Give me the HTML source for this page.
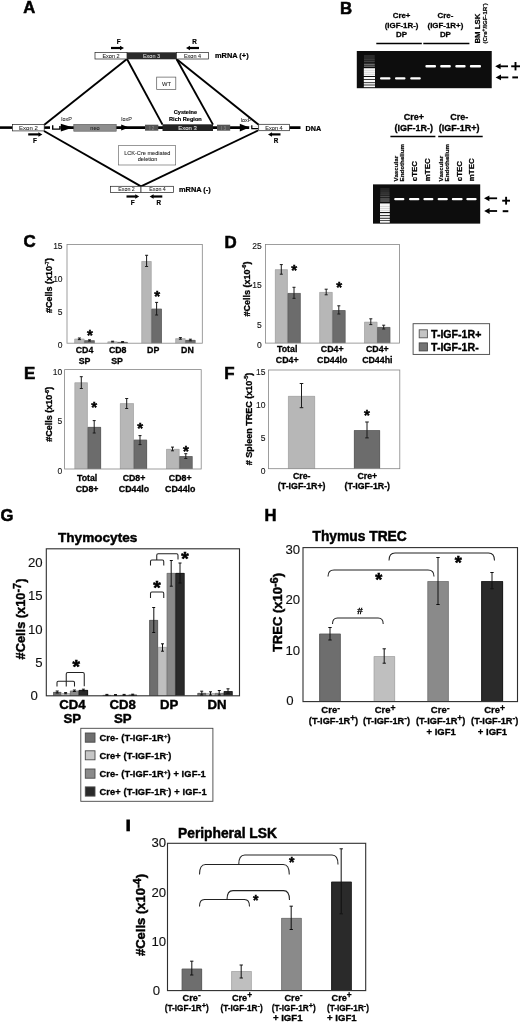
<!DOCTYPE html>
<html><head><meta charset="utf-8"><title>Figure</title>
<style>
html,body{margin:0;padding:0;background:#fff;}
body{width:520px;height:1023px;overflow:hidden;font-family:"Liberation Sans",sans-serif;}
svg{display:block;font-family:"Liberation Sans",sans-serif;}
</style></head><body>
<svg width="520" height="1023" viewBox="0 0 520 1023">
<defs>
<filter id="glow" x="-20%" y="-100%" width="140%" height="300%"><feGaussianBlur stdDeviation="0.7"/></filter>
<filter id="glow2" x="-20%" y="-100%" width="140%" height="300%"><feGaussianBlur stdDeviation="0.45"/></filter>
<filter id="soft" x="-5%" y="-5%" width="110%" height="110%"><feGaussianBlur stdDeviation="0.35"/></filter>
</defs>
<rect x="0" y="0" width="520" height="1023" fill="#fff"/>
<g filter="url(#soft)">
<g id="panelA">
<text x="23.2" y="13.4" font-size="16.6" font-weight="bold" text-anchor="start" fill="#000" stroke="#000" stroke-width="0.55">A</text>
<line x1="127.0" y1="59.0" x2="44.0" y2="125.0" stroke="#000" stroke-width="1.9" stroke-linecap="butt"/>
<line x1="127.0" y1="59.0" x2="162.5" y2="124.6" stroke="#000" stroke-width="1.9" stroke-linecap="butt"/>
<line x1="176.5" y1="59.0" x2="213.0" y2="124.6" stroke="#000" stroke-width="1.9" stroke-linecap="butt"/>
<line x1="176.5" y1="59.0" x2="258.7" y2="124.8" stroke="#000" stroke-width="1.9" stroke-linecap="butt"/>
<line x1="44.0" y1="131.0" x2="141.0" y2="186.3" stroke="#000" stroke-width="1.9" stroke-linecap="butt"/>
<line x1="258.0" y1="130.5" x2="141.0" y2="186.3" stroke="#000" stroke-width="1.9" stroke-linecap="butt"/>
<rect x="95.0" y="52.6" width="32.0" height="6.4" fill="#fff" stroke="#222" stroke-width="0.7"/>
<rect x="127.0" y="52.3" width="49.5" height="7.0" fill="#2a2a2a"/>
<rect x="176.5" y="52.6" width="32.0" height="6.4" fill="#fff" stroke="#222" stroke-width="0.7"/>
<text x="111.0" y="57.9" font-size="5.5" font-weight="normal" text-anchor="middle" fill="#222" stroke="#222" stroke-width="0.07">Exon 2</text>
<text x="151.5" y="57.9" font-size="5.5" font-weight="normal" text-anchor="middle" fill="#ddd" stroke="#ddd" stroke-width="0.07">Exon 3</text>
<text x="192.5" y="57.9" font-size="5.5" font-weight="normal" text-anchor="middle" fill="#222" stroke="#222" stroke-width="0.07">Exon 4</text>
<text x="118.6" y="43.6" font-size="6.3" font-weight="bold" text-anchor="middle" fill="#000" stroke="#000" stroke-width="0.21">F</text>
<line x1="111.0" y1="48.0" x2="120.5" y2="48.0" stroke="#000" stroke-width="2.2" stroke-linecap="butt"/>
<polygon points="124.0,48.0 120.0,45.8 120.0,50.2" fill="#000"/>
<text x="194.5" y="43.6" font-size="6.3" font-weight="bold" text-anchor="middle" fill="#000" stroke="#000" stroke-width="0.21">R</text>
<line x1="189.5" y1="48.0" x2="199.0" y2="48.0" stroke="#000" stroke-width="2.2" stroke-linecap="butt"/>
<polygon points="186.0,48.0 190.0,45.8 190.0,50.2" fill="#000"/>
<text x="215.0" y="58.4" font-size="7.4" font-weight="bold" text-anchor="start" fill="#000" stroke="#000" stroke-width="0.24">mRNA (+)</text>
<rect x="156.7" y="77.1" width="19.1" height="12.5" fill="#fff" stroke="#555" stroke-width="0.7"/>
<text x="166.6" y="85.7" font-size="5.8" font-weight="normal" text-anchor="middle" fill="#222" stroke="#222" stroke-width="0.07">WT</text>
<line x1="0.0" y1="127.6" x2="12.4" y2="127.6" stroke="#000" stroke-width="2.6" stroke-linecap="butt"/>
<line x1="44.0" y1="127.6" x2="50.0" y2="127.6" stroke="#000" stroke-width="2.6" stroke-linecap="butt"/>
<line x1="60.5" y1="127.6" x2="300.5" y2="127.6" stroke="#000" stroke-width="2.6" stroke-linecap="butt"/>
<rect x="12.5" y="124.4" width="31.7" height="6.5" fill="#fff" stroke="#222" stroke-width="0.7"/>
<text x="28.4" y="129.9" font-size="6.0" font-weight="normal" text-anchor="middle" fill="#222" stroke="#222" stroke-width="0.07">Exon 2</text>
<path d="M52.7,125.3 V129.1 H59.9 V126.1" stroke="#000" stroke-width="1.4" fill="none" />
<polygon points="60.8,123.7 73,127.6 60.8,131.4" fill="#000"/>
<polygon points="121.2,124.6 129,127.6 121.2,130.6" fill="#000"/>
<polygon points="239.8,123.7 249.4,127.6 239.8,131.4" fill="#000"/>
<rect x="73.8" y="124.4" width="42.4" height="6.8" fill="#8e8e8e" stroke="#555" stroke-width="0.6"/>
<text x="95.0" y="129.9" font-size="5.6" font-weight="normal" text-anchor="middle" fill="#222" stroke="#222" stroke-width="0.07">neo</text>
<rect x="145.0" y="124.7" width="13.3" height="6.0" fill="#555"/>
<text x="151.7" y="129.5" font-size="4.6" font-weight="normal" text-anchor="middle" fill="#8a8a8a" stroke="#8a8a8a" stroke-width="0.06">I 2</text>
<rect x="162.5" y="124.3" width="50.5" height="6.7" fill="#222"/>
<text x="187.5" y="129.9" font-size="6.0" font-weight="normal" text-anchor="middle" fill="#e4e4e4" stroke="#e4e4e4" stroke-width="0.07">Exon 3</text>
<rect x="217.0" y="124.7" width="13.2" height="6.0" fill="#555"/>
<text x="223.6" y="129.5" font-size="4.6" font-weight="normal" text-anchor="middle" fill="#8a8a8a" stroke="#8a8a8a" stroke-width="0.06">I 3</text>
<line x1="249.2" y1="127.8" x2="259.0" y2="127.8" stroke="#fff" stroke-width="3.4" stroke-linecap="butt"/>
<path d="M251.8,125.3 V128.6 H258.5" stroke="#000" stroke-width="1.2" fill="none" />
<rect x="258.7" y="124.3" width="30.9" height="6.4" fill="#fff" stroke="#222" stroke-width="0.7"/>
<text x="274.0" y="129.8" font-size="5.6" font-weight="normal" text-anchor="middle" fill="#222" stroke="#222" stroke-width="0.07">Exon 4</text>
<text x="305.5" y="130.6" font-size="7.2" font-weight="bold" text-anchor="start" fill="#000" stroke="#000" stroke-width="0.24">DNA</text>
<text x="66.5" y="121.0" font-size="5.4" font-weight="normal" text-anchor="middle" fill="#222" stroke="#222" stroke-width="0.06">loxP</text>
<text x="126.5" y="121.0" font-size="5.4" font-weight="normal" text-anchor="middle" fill="#222" stroke="#222" stroke-width="0.06">loxP</text>
<text x="246.0" y="121.5" font-size="5.4" font-weight="normal" text-anchor="middle" fill="#222" stroke="#222" stroke-width="0.06">loxP</text>
<text x="185.4" y="113.8" font-size="5.6" font-weight="bold" text-anchor="middle" fill="#000" stroke="#000" stroke-width="0.18">Cysteine</text>
<text x="185.4" y="120.8" font-size="5.6" font-weight="bold" text-anchor="middle" fill="#000" stroke="#000" stroke-width="0.18">Rich Region</text>
<line x1="28.2" y1="134.4" x2="38.9" y2="134.4" stroke="#000" stroke-width="2.2" stroke-linecap="butt"/>
<polygon points="42.4,134.4 38.4,132.2 38.4,136.7" fill="#000"/>
<text x="35.0" y="143.0" font-size="6.3" font-weight="bold" text-anchor="middle" fill="#000" stroke="#000" stroke-width="0.21">F</text>
<line x1="271.5" y1="134.4" x2="280.5" y2="134.4" stroke="#000" stroke-width="2.2" stroke-linecap="butt"/>
<polygon points="268.0,134.4 272.0,132.2 272.0,136.7" fill="#000"/>
<text x="276.0" y="143.0" font-size="6.3" font-weight="bold" text-anchor="middle" fill="#000" stroke="#000" stroke-width="0.21">R</text>
<rect x="118.5" y="145.7" width="57.2" height="19.3" fill="#fff" stroke="#555" stroke-width="0.6"/>
<text x="147.3" y="154.5" font-size="5.6" font-weight="normal" text-anchor="middle" fill="#222" stroke="#222" stroke-width="0.07">LCK-Cre mediated</text>
<text x="147.5" y="161.2" font-size="5.6" font-weight="normal" text-anchor="middle" fill="#222" stroke="#222" stroke-width="0.07">deletion</text>
<rect x="110.4" y="186.3" width="30.6" height="6.1" fill="#fff" stroke="#222" stroke-width="0.7"/>
<rect x="141.0" y="186.3" width="32.4" height="6.1" fill="#fff" stroke="#222" stroke-width="0.7"/>
<text x="126.5" y="191.4" font-size="5.3" font-weight="normal" text-anchor="middle" fill="#222" stroke="#222" stroke-width="0.06">Exon 2</text>
<text x="157.5" y="191.4" font-size="5.3" font-weight="normal" text-anchor="middle" fill="#222" stroke="#222" stroke-width="0.06">Exon 4</text>
<line x1="126.5" y1="196.5" x2="135.7" y2="196.5" stroke="#000" stroke-width="2.2" stroke-linecap="butt"/>
<polygon points="139.2,196.5 135.2,194.2 135.2,198.8" fill="#000"/>
<text x="132.6" y="205.0" font-size="6.3" font-weight="bold" text-anchor="middle" fill="#000" stroke="#000" stroke-width="0.21">F</text>
<line x1="153.1" y1="196.5" x2="162.3" y2="196.5" stroke="#000" stroke-width="2.2" stroke-linecap="butt"/>
<polygon points="149.6,196.5 153.6,194.2 153.6,198.8" fill="#000"/>
<text x="158.8" y="205.0" font-size="6.3" font-weight="bold" text-anchor="middle" fill="#000" stroke="#000" stroke-width="0.21">R</text>
<text x="179.0" y="191.6" font-size="7.4" font-weight="bold" text-anchor="start" fill="#000" stroke="#000" stroke-width="0.24">mRNA (-)</text>
</g>
<g id="panelB">
<text x="340.0" y="14.2" font-size="16.8" font-weight="bold" text-anchor="start" fill="#000" stroke="#000" stroke-width="0.55">B</text>
<text x="401.6" y="18.0" font-size="7.9" font-weight="bold" text-anchor="middle" fill="#000" stroke="#000" stroke-width="0.26">Cre+</text>
<text x="401.6" y="27.7" font-size="7.9" font-weight="bold" text-anchor="middle" fill="#000" stroke="#000" stroke-width="0.26">(IGF-1R-)</text>
<text x="401.6" y="37.4" font-size="7.9" font-weight="bold" text-anchor="middle" fill="#000" stroke="#000" stroke-width="0.26">DP</text>
<text x="445.4" y="18.0" font-size="7.9" font-weight="bold" text-anchor="middle" fill="#000" stroke="#000" stroke-width="0.26">Cre-</text>
<text x="445.4" y="27.7" font-size="7.9" font-weight="bold" text-anchor="middle" fill="#000" stroke="#000" stroke-width="0.26">(IGF-1R+)</text>
<text x="445.4" y="37.4" font-size="7.9" font-weight="bold" text-anchor="middle" fill="#000" stroke="#000" stroke-width="0.26">DP</text>
<line x1="376.3" y1="43.5" x2="421.8" y2="43.5" stroke="#000" stroke-width="1.5" stroke-linecap="butt"/>
<line x1="423.3" y1="43.5" x2="469.4" y2="43.5" stroke="#000" stroke-width="1.5" stroke-linecap="butt"/>
<text x="479.6" y="43.6" font-size="7.8" font-weight="bold" text-anchor="start" fill="#000" stroke="#000" stroke-width="0.26" transform="rotate(-90 479.6 43.6)">BM LSK</text>
<text x="487.4" y="43.6" font-size="6.1" font-weight="bold" text-anchor="start" fill="#000" stroke="#000" stroke-width="0.20" transform="rotate(-90 487.4 43.6)">(Cre<tspan dy="-2.2" font-size="5">+</tspan><tspan dy="2.2">/IGF-1R</tspan><tspan dy="-2.2" font-size="5">-</tspan><tspan dy="2.2">)</tspan></text>
<rect x="356.8" y="51.0" width="134.9" height="37.2" fill="#080808"/>
<g filter="url(#glow2)">
<rect x="364" y="55.55" width="10.8" height="0.9" fill="#fff" opacity="0.3"/>
<rect x="364" y="57.55" width="10.8" height="0.9" fill="#fff" opacity="0.32"/>
<rect x="364" y="59.45" width="10.8" height="0.9" fill="#fff" opacity="0.36"/>
<rect x="364" y="61.35" width="10.8" height="0.9" fill="#fff" opacity="0.36"/>
<rect x="364" y="63.75" width="10.8" height="0.9" fill="#fff" opacity="0.6"/>
<rect x="364" y="65.65" width="10.8" height="0.9" fill="#fff" opacity="0.65"/>
<rect x="363.8" y="68.20" width="11.2" height="7.80" fill="#fff" opacity="0.97"/>
<rect x="363.8" y="77.00" width="11.2" height="2.20" fill="#fff" opacity="0.97"/>
<rect x="363.8" y="80.00" width="11.2" height="2.30" fill="#fff" opacity="0.97"/>
<rect x="363.8" y="83.10" width="11.2" height="1.50" fill="#fff" opacity="0.97"/>
<rect x="363.8" y="85.40" width="11.2" height="1.80" fill="#fff" opacity="0.97"/>
<rect x="363.8" y="70.60" width="11.2" height="0.5" fill="#000" opacity="0.25"/>
<rect x="363.8" y="72.60" width="11.2" height="0.5" fill="#000" opacity="0.25"/>
<rect x="363.8" y="74.40" width="11.2" height="0.5" fill="#000" opacity="0.25"/>
</g>
<g filter="url(#glow)">
<rect x="380" y="77.2" width="10.5" height="2.3" rx="1" fill="#fff"/>
<rect x="395" y="77.2" width="10.5" height="2.3" rx="1" fill="#fff"/>
<rect x="410.2" y="77.2" width="10.6" height="2.3" rx="1" fill="#fff"/>
<rect x="425.4" y="65.1" width="10.6" height="2.4" rx="1" fill="#fff"/>
<rect x="440.2" y="65.1" width="10.6" height="2.4" rx="1" fill="#fff"/>
<rect x="455.3" y="65.1" width="10.3" height="2.4" rx="1" fill="#fff"/>
<rect x="469.9" y="65.1" width="11.1" height="2.4" rx="1" fill="#fff"/>
</g>
<line x1="500.1" y1="66.3" x2="508.0" y2="66.3" stroke="#000" stroke-width="1.8" stroke-linecap="butt"/>
<polygon points="495.2,66.3 500.6,63.4 500.6,69.2" fill="#000"/>
<line x1="511.2" y1="66.3" x2="520.0" y2="66.3" stroke="#000" stroke-width="1.9" stroke-linecap="butt"/>
<line x1="515.5" y1="62.0" x2="515.5" y2="70.4" stroke="#000" stroke-width="1.9" stroke-linecap="butt"/>
<line x1="500.5" y1="77.4" x2="508.3" y2="77.4" stroke="#000" stroke-width="1.8" stroke-linecap="butt"/>
<polygon points="495.6,77.4 501.0,74.5 501.0,80.3" fill="#000"/>
<line x1="512.3" y1="77.4" x2="518.0" y2="77.4" stroke="#000" stroke-width="2" stroke-linecap="butt"/>
<text x="413.8" y="119.9" font-size="9" font-weight="bold" text-anchor="middle" fill="#000" stroke="#000" stroke-width="0.30">Cre+</text>
<text x="413.8" y="131.1" font-size="9" font-weight="bold" text-anchor="middle" fill="#000" stroke="#000" stroke-width="0.30">(IGF-1R-)</text>
<text x="459.2" y="119.9" font-size="9" font-weight="bold" text-anchor="middle" fill="#000" stroke="#000" stroke-width="0.30">Cre-</text>
<text x="459.2" y="131.1" font-size="9" font-weight="bold" text-anchor="middle" fill="#000" stroke="#000" stroke-width="0.30">(IGF-1R+)</text>
<line x1="390.4" y1="136.6" x2="435.4" y2="136.6" stroke="#000" stroke-width="1.5" stroke-linecap="butt"/>
<line x1="438.2" y1="136.6" x2="482.7" y2="136.6" stroke="#000" stroke-width="1.5" stroke-linecap="butt"/>
<text x="398.0" y="181.4" font-size="6.2" font-weight="bold" text-anchor="start" fill="#000" stroke="#000" stroke-width="0.20" transform="rotate(-90 398.0 181.4)">Vascular</text>
<text x="403.8" y="181.4" font-size="6.2" font-weight="bold" text-anchor="start" fill="#000" stroke="#000" stroke-width="0.20" transform="rotate(-90 403.8 181.4)">Endothelium</text>
<text x="417.0" y="181.2" font-size="7.9" font-weight="bold" text-anchor="start" fill="#000" stroke="#000" stroke-width="0.26" transform="rotate(-90 417.0 181.2)">cTEC</text>
<text x="429.6" y="181.2" font-size="7.9" font-weight="bold" text-anchor="start" fill="#000" stroke="#000" stroke-width="0.26" transform="rotate(-90 429.6 181.2)">mTEC</text>
<text x="442.8" y="181.4" font-size="6.2" font-weight="bold" text-anchor="start" fill="#000" stroke="#000" stroke-width="0.20" transform="rotate(-90 442.8 181.4)">Vascular</text>
<text x="448.6" y="181.4" font-size="6.2" font-weight="bold" text-anchor="start" fill="#000" stroke="#000" stroke-width="0.20" transform="rotate(-90 448.6 181.4)">Endothelium</text>
<text x="461.8" y="181.2" font-size="7.9" font-weight="bold" text-anchor="start" fill="#000" stroke="#000" stroke-width="0.26" transform="rotate(-90 461.8 181.2)">cTEC</text>
<text x="474.4" y="181.2" font-size="7.9" font-weight="bold" text-anchor="start" fill="#000" stroke="#000" stroke-width="0.26" transform="rotate(-90 474.4 181.2)">mTEC</text>
<rect x="373.0" y="184.4" width="107.2" height="39.2" fill="#080808"/>
<g filter="url(#glow2)">
<rect x="380.2" y="188.55" width="9.4" height="0.9" fill="#fff" opacity="0.25"/>
<rect x="380.2" y="190.55" width="9.4" height="0.9" fill="#fff" opacity="0.32"/>
<rect x="380.2" y="192.55" width="9.4" height="0.9" fill="#fff" opacity="0.36"/>
<rect x="380.2" y="194.45" width="9.4" height="0.9" fill="#fff" opacity="0.36"/>
<rect x="380.2" y="196.35" width="9.4" height="0.9" fill="#fff" opacity="0.42"/>
<rect x="380.2" y="198.55" width="9.4" height="0.9" fill="#fff" opacity="0.6"/>
<rect x="380.2" y="200.55" width="9.4" height="0.9" fill="#fff" opacity="0.62"/>
<rect x="380" y="203.40" width="9.8" height="8.60" fill="#fff" opacity="0.97"/>
<rect x="380" y="213.10" width="9.8" height="2.10" fill="#fff" opacity="0.97"/>
<rect x="380" y="216.10" width="9.8" height="1.70" fill="#fff" opacity="0.97"/>
<rect x="380" y="218.70" width="9.8" height="1.60" fill="#fff" opacity="0.97"/>
<rect x="380" y="221.00" width="9.8" height="1.70" fill="#fff" opacity="0.97"/>
<rect x="380" y="206.00" width="9.8" height="0.5" fill="#000" opacity="0.25"/>
<rect x="380" y="208.20" width="9.8" height="0.5" fill="#000" opacity="0.25"/>
<rect x="380" y="210.20" width="9.8" height="0.5" fill="#000" opacity="0.25"/>
</g>
<g filter="url(#glow)">
<rect x="394.2" y="197.9" width="10.2" height="2.4" rx="1" fill="#fff"/>
<rect x="409" y="197.9" width="10.4" height="2.4" rx="1" fill="#fff"/>
<rect x="423.4" y="197.9" width="10.0" height="2.4" rx="1" fill="#fff"/>
<rect x="437.6" y="197.9" width="10.2" height="2.4" rx="1" fill="#fff"/>
<rect x="451.8" y="197.9" width="10.8" height="2.4" rx="1" fill="#fff"/>
<rect x="466.3" y="197.9" width="10.3" height="2.4" rx="1" fill="#fff"/>
</g>
<line x1="488.9" y1="198.3" x2="497.1" y2="198.3" stroke="#000" stroke-width="1.8" stroke-linecap="butt"/>
<polygon points="484.0,198.3 489.4,195.4 489.4,201.2" fill="#000"/>
<line x1="502.2" y1="200.7" x2="510.0" y2="200.7" stroke="#000" stroke-width="1.9" stroke-linecap="butt"/>
<line x1="506.1" y1="196.8" x2="506.1" y2="204.6" stroke="#000" stroke-width="1.9" stroke-linecap="butt"/>
<line x1="489.1" y1="211.0" x2="497.1" y2="211.0" stroke="#000" stroke-width="1.8" stroke-linecap="butt"/>
<polygon points="484.2,211.0 489.6,208.1 489.6,213.9" fill="#000"/>
<line x1="502.7" y1="211.2" x2="508.3" y2="211.2" stroke="#000" stroke-width="2" stroke-linecap="butt"/>
</g>
<g id="panelC">
<text x="23.6" y="247.4" font-size="16.9" font-weight="bold" text-anchor="start" fill="#000" stroke="#000" stroke-width="0.56">C</text>
<rect x="74.4" y="338.8" width="10.0" height="4.4" fill="#b7b7b7"/>
<path d="M74.7,343.2 V339.1 H84.1 V343.2" fill="none" stroke="#a4a4a4" stroke-width="0.6"/>
<rect x="84.4" y="340.4" width="10.2" height="2.8" fill="#6c6c6c"/>
<path d="M84.7,343.2 V340.7 H94.3 V343.2" fill="none" stroke="#5c5c5c" stroke-width="0.6"/>
<rect x="107.6" y="341.6" width="10.0" height="1.6" fill="#b7b7b7"/>
<path d="M107.9,343.2 V341.9 H117.3 V343.2" fill="none" stroke="#a4a4a4" stroke-width="0.6"/>
<rect x="117.6" y="342.0" width="10.0" height="1.2" fill="#6c6c6c"/>
<path d="M117.9,343.2 V342.3 H127.3 V343.2" fill="none" stroke="#5c5c5c" stroke-width="0.6"/>
<rect x="141.5" y="261.2" width="10.0" height="82.0" fill="#b7b7b7"/>
<path d="M141.8,343.2 V261.5 H151.2 V343.2" fill="none" stroke="#a4a4a4" stroke-width="0.6"/>
<rect x="151.5" y="308.8" width="10.3" height="34.4" fill="#6c6c6c"/>
<path d="M151.8,343.2 V309.1 H161.5 V343.2" fill="none" stroke="#5c5c5c" stroke-width="0.6"/>
<rect x="175.4" y="338.4" width="10.0" height="4.8" fill="#b7b7b7"/>
<path d="M175.7,343.2 V338.7 H185.1 V343.2" fill="none" stroke="#a4a4a4" stroke-width="0.6"/>
<rect x="185.4" y="340.0" width="10.0" height="3.2" fill="#6c6c6c"/>
<path d="M185.7,343.2 V340.3 H195.1 V343.2" fill="none" stroke="#5c5c5c" stroke-width="0.6"/>
<rect x="67" y="244.5" width="135.3" height="98.7" fill="none" stroke="#858585" stroke-width="0.8"/>
<text x="62.6" y="248.8" font-size="8.5" font-weight="normal" text-anchor="end" fill="#111" stroke="#111" stroke-width="0.10">15</text>
<text x="62.6" y="281.7" font-size="8.5" font-weight="normal" text-anchor="end" fill="#111" stroke="#111" stroke-width="0.10">10</text>
<text x="62.6" y="314.6" font-size="8.5" font-weight="normal" text-anchor="end" fill="#111" stroke="#111" stroke-width="0.10">5</text>
<text x="62.6" y="347.5" font-size="8.5" font-weight="normal" text-anchor="end" fill="#111" stroke="#111" stroke-width="0.10">0</text>
<text x="52.2" y="285.6" font-size="9.0" font-weight="bold" text-anchor="middle" fill="#000" stroke="#000" stroke-width="0.30" transform="rotate(-90 52.2 285.6)">#Cells (x10<tspan dy="-3.2" font-size="5.6">-7</tspan><tspan dy="3.2">)</tspan></text>
<line x1="79.4" y1="338.0" x2="79.4" y2="339.6" stroke="#1a1a1a" stroke-width="1.0" stroke-linecap="butt"/>
<line x1="77.9" y1="338.0" x2="80.9" y2="338.0" stroke="#1a1a1a" stroke-width="1.0" stroke-linecap="butt"/>
<line x1="77.9" y1="339.6" x2="80.9" y2="339.6" stroke="#1a1a1a" stroke-width="1.0" stroke-linecap="butt"/>
<line x1="89.5" y1="339.8" x2="89.5" y2="341.0" stroke="#1a1a1a" stroke-width="1.0" stroke-linecap="butt"/>
<line x1="88.0" y1="339.8" x2="91.0" y2="339.8" stroke="#1a1a1a" stroke-width="1.0" stroke-linecap="butt"/>
<line x1="88.0" y1="341.0" x2="91.0" y2="341.0" stroke="#1a1a1a" stroke-width="1.0" stroke-linecap="butt"/>
<line x1="112.6" y1="341.2" x2="112.6" y2="342.0" stroke="#1a1a1a" stroke-width="1.0" stroke-linecap="butt"/>
<line x1="111.1" y1="341.2" x2="114.1" y2="341.2" stroke="#1a1a1a" stroke-width="1.0" stroke-linecap="butt"/>
<line x1="111.1" y1="342.0" x2="114.1" y2="342.0" stroke="#1a1a1a" stroke-width="1.0" stroke-linecap="butt"/>
<line x1="122.6" y1="341.6" x2="122.6" y2="342.4" stroke="#1a1a1a" stroke-width="1.0" stroke-linecap="butt"/>
<line x1="121.1" y1="341.6" x2="124.1" y2="341.6" stroke="#1a1a1a" stroke-width="1.0" stroke-linecap="butt"/>
<line x1="121.1" y1="342.4" x2="124.1" y2="342.4" stroke="#1a1a1a" stroke-width="1.0" stroke-linecap="butt"/>
<line x1="146.6" y1="255.3" x2="146.6" y2="266.5" stroke="#1a1a1a" stroke-width="1.0" stroke-linecap="butt"/>
<line x1="145.1" y1="255.3" x2="148.1" y2="255.3" stroke="#1a1a1a" stroke-width="1.0" stroke-linecap="butt"/>
<line x1="145.1" y1="266.5" x2="148.1" y2="266.5" stroke="#1a1a1a" stroke-width="1.0" stroke-linecap="butt"/>
<line x1="156.6" y1="302.4" x2="156.6" y2="315.0" stroke="#1a1a1a" stroke-width="1.0" stroke-linecap="butt"/>
<line x1="155.1" y1="302.4" x2="158.1" y2="302.4" stroke="#1a1a1a" stroke-width="1.0" stroke-linecap="butt"/>
<line x1="155.1" y1="315.0" x2="158.1" y2="315.0" stroke="#1a1a1a" stroke-width="1.0" stroke-linecap="butt"/>
<line x1="180.4" y1="337.6" x2="180.4" y2="339.2" stroke="#1a1a1a" stroke-width="1.0" stroke-linecap="butt"/>
<line x1="178.9" y1="337.6" x2="181.9" y2="337.6" stroke="#1a1a1a" stroke-width="1.0" stroke-linecap="butt"/>
<line x1="178.9" y1="339.2" x2="181.9" y2="339.2" stroke="#1a1a1a" stroke-width="1.0" stroke-linecap="butt"/>
<line x1="190.4" y1="339.2" x2="190.4" y2="340.8" stroke="#1a1a1a" stroke-width="1.0" stroke-linecap="butt"/>
<line x1="188.9" y1="339.2" x2="191.9" y2="339.2" stroke="#1a1a1a" stroke-width="1.0" stroke-linecap="butt"/>
<line x1="188.9" y1="340.8" x2="191.9" y2="340.8" stroke="#1a1a1a" stroke-width="1.0" stroke-linecap="butt"/>
<text x="89.9" y="340.2" font-size="15" font-weight="bold" text-anchor="middle" fill="#000" stroke="#000" stroke-width="0.49">*</text>
<text x="157.2" y="301.0" font-size="15" font-weight="bold" text-anchor="middle" fill="#000" stroke="#000" stroke-width="0.49">*</text>
<text x="84.5" y="352.9" font-size="8.8" font-weight="bold" text-anchor="middle" fill="#000" stroke="#000" stroke-width="0.29">CD4</text>
<text x="117.7" y="352.9" font-size="8.8" font-weight="bold" text-anchor="middle" fill="#000" stroke="#000" stroke-width="0.29">CD8</text>
<text x="153.2" y="352.9" font-size="8.8" font-weight="bold" text-anchor="middle" fill="#000" stroke="#000" stroke-width="0.29">DP</text>
<text x="187.4" y="352.9" font-size="8.8" font-weight="bold" text-anchor="middle" fill="#000" stroke="#000" stroke-width="0.29">DN</text>
<text x="84.5" y="364.2" font-size="8.8" font-weight="bold" text-anchor="middle" fill="#000" stroke="#000" stroke-width="0.29">SP</text>
<text x="117.0" y="364.2" font-size="8.8" font-weight="bold" text-anchor="middle" fill="#000" stroke="#000" stroke-width="0.29">SP</text>
</g>
<g id="panelD">
<text x="224.4" y="247.7" font-size="16.9" font-weight="bold" text-anchor="start" fill="#000" stroke="#000" stroke-width="0.56">D</text>
<rect x="275.0" y="269.4" width="12.7" height="73.7" fill="#b7b7b7"/>
<path d="M275.3,343.1 V269.7 H287.4 V343.1" fill="none" stroke="#a4a4a4" stroke-width="0.6"/>
<rect x="287.7" y="293.1" width="12.9" height="50.0" fill="#6c6c6c"/>
<path d="M288.0,343.1 V293.4 H300.3 V343.1" fill="none" stroke="#5c5c5c" stroke-width="0.6"/>
<rect x="319.4" y="292.1" width="13.1" height="51.0" fill="#b7b7b7"/>
<path d="M319.7,343.1 V292.4 H332.2 V343.1" fill="none" stroke="#a4a4a4" stroke-width="0.6"/>
<rect x="332.5" y="310.2" width="12.9" height="32.9" fill="#6c6c6c"/>
<path d="M332.8,343.1 V310.5 H345.1 V343.1" fill="none" stroke="#5c5c5c" stroke-width="0.6"/>
<rect x="364.2" y="321.9" width="13.1" height="21.2" fill="#b7b7b7"/>
<path d="M364.5,343.1 V322.2 H377.0 V343.1" fill="none" stroke="#a4a4a4" stroke-width="0.6"/>
<rect x="377.3" y="327.1" width="12.9" height="16.0" fill="#6c6c6c"/>
<path d="M377.6,343.1 V327.4 H389.9 V343.1" fill="none" stroke="#5c5c5c" stroke-width="0.6"/>
<rect x="265.4" y="244.4" width="134.2" height="98.7" fill="none" stroke="#858585" stroke-width="0.8"/>
<text x="261.8" y="248.9" font-size="8.5" font-weight="normal" text-anchor="end" fill="#111" stroke="#111" stroke-width="0.10">25</text>
<text x="261.8" y="288.3" font-size="8.5" font-weight="normal" text-anchor="end" fill="#111" stroke="#111" stroke-width="0.10">15</text>
<text x="261.8" y="327.7" font-size="8.5" font-weight="normal" text-anchor="end" fill="#111" stroke="#111" stroke-width="0.10">5</text>
<text x="261.8" y="347.7" font-size="8.5" font-weight="normal" text-anchor="end" fill="#111" stroke="#111" stroke-width="0.10">0</text>
<text x="249.6" y="289.0" font-size="9.0" font-weight="bold" text-anchor="middle" fill="#000" stroke="#000" stroke-width="0.30" transform="rotate(-90 249.6 289.0)">#Cells (x10<tspan dy="-3.2" font-size="5.6">-6</tspan><tspan dy="3.2">)</tspan></text>
<line x1="281.3" y1="264.6" x2="281.3" y2="274.2" stroke="#1a1a1a" stroke-width="1.0" stroke-linecap="butt"/>
<line x1="279.8" y1="264.6" x2="282.8" y2="264.6" stroke="#1a1a1a" stroke-width="1.0" stroke-linecap="butt"/>
<line x1="279.8" y1="274.2" x2="282.8" y2="274.2" stroke="#1a1a1a" stroke-width="1.0" stroke-linecap="butt"/>
<line x1="294.0" y1="287.3" x2="294.0" y2="298.3" stroke="#1a1a1a" stroke-width="1.0" stroke-linecap="butt"/>
<line x1="292.5" y1="287.3" x2="295.5" y2="287.3" stroke="#1a1a1a" stroke-width="1.0" stroke-linecap="butt"/>
<line x1="292.5" y1="298.3" x2="295.5" y2="298.3" stroke="#1a1a1a" stroke-width="1.0" stroke-linecap="butt"/>
<line x1="326.2" y1="289.2" x2="326.2" y2="294.8" stroke="#1a1a1a" stroke-width="1.0" stroke-linecap="butt"/>
<line x1="324.7" y1="289.2" x2="327.7" y2="289.2" stroke="#1a1a1a" stroke-width="1.0" stroke-linecap="butt"/>
<line x1="324.7" y1="294.8" x2="327.7" y2="294.8" stroke="#1a1a1a" stroke-width="1.0" stroke-linecap="butt"/>
<line x1="338.8" y1="305.8" x2="338.8" y2="314.0" stroke="#1a1a1a" stroke-width="1.0" stroke-linecap="butt"/>
<line x1="337.3" y1="305.8" x2="340.3" y2="305.8" stroke="#1a1a1a" stroke-width="1.0" stroke-linecap="butt"/>
<line x1="337.3" y1="314.0" x2="340.3" y2="314.0" stroke="#1a1a1a" stroke-width="1.0" stroke-linecap="butt"/>
<line x1="370.8" y1="318.8" x2="370.8" y2="324.6" stroke="#1a1a1a" stroke-width="1.0" stroke-linecap="butt"/>
<line x1="369.3" y1="318.8" x2="372.3" y2="318.8" stroke="#1a1a1a" stroke-width="1.0" stroke-linecap="butt"/>
<line x1="369.3" y1="324.6" x2="372.3" y2="324.6" stroke="#1a1a1a" stroke-width="1.0" stroke-linecap="butt"/>
<line x1="383.7" y1="325.2" x2="383.7" y2="329.0" stroke="#1a1a1a" stroke-width="1.0" stroke-linecap="butt"/>
<line x1="382.2" y1="325.2" x2="385.2" y2="325.2" stroke="#1a1a1a" stroke-width="1.0" stroke-linecap="butt"/>
<line x1="382.2" y1="329.0" x2="385.2" y2="329.0" stroke="#1a1a1a" stroke-width="1.0" stroke-linecap="butt"/>
<text x="294.2" y="275.3" font-size="15" font-weight="bold" text-anchor="middle" fill="#000" stroke="#000" stroke-width="0.49">*</text>
<text x="339.2" y="291.6" font-size="15" font-weight="bold" text-anchor="middle" fill="#000" stroke="#000" stroke-width="0.49">*</text>
<text x="287.2" y="352.3" font-size="8.8" font-weight="bold" text-anchor="middle" fill="#000" stroke="#000" stroke-width="0.29">Total</text>
<text x="287.2" y="362.7" font-size="8.8" font-weight="bold" text-anchor="middle" fill="#000" stroke="#000" stroke-width="0.29">CD4+</text>
<text x="332.2" y="352.3" font-size="8.8" font-weight="bold" text-anchor="middle" fill="#000" stroke="#000" stroke-width="0.29">CD4+</text>
<text x="332.2" y="362.7" font-size="8.8" font-weight="bold" text-anchor="middle" fill="#000" stroke="#000" stroke-width="0.29">CD44lo</text>
<text x="377.3" y="352.3" font-size="8.8" font-weight="bold" text-anchor="middle" fill="#000" stroke="#000" stroke-width="0.29">CD4+</text>
<text x="377.3" y="362.7" font-size="8.8" font-weight="bold" text-anchor="middle" fill="#000" stroke="#000" stroke-width="0.29">CD44hi</text>
</g>
<g id="legendCF">
<rect x="413.1" y="323.7" width="76.5" height="30.7" fill="#fff" stroke="#444" stroke-width="0.9"/>
<rect x="419.2" y="329.8" width="8.2" height="8.0" fill="#c4c4c4" stroke="#555" stroke-width="0.9"/>
<rect x="419.2" y="342.9" width="8.2" height="8.0" fill="#757575" stroke="#444" stroke-width="0.9"/>
<text x="431.0" y="337.7" font-size="10.6" font-weight="bold" text-anchor="start" fill="#000" stroke="#000" stroke-width="0.35">T-IGF-1R+</text>
<text x="431.0" y="351.0" font-size="10.6" font-weight="bold" text-anchor="start" fill="#000" stroke="#000" stroke-width="0.35">T-IGF-1R-</text>
</g>
<g id="panelE">
<text x="24.0" y="378.8" font-size="16.9" font-weight="bold" text-anchor="start" fill="#000" stroke="#000" stroke-width="0.56">E</text>
<rect x="74.6" y="382.5" width="13.1" height="86.5" fill="#b7b7b7"/>
<path d="M74.9,469.0 V382.8 H87.4 V469.0" fill="none" stroke="#a4a4a4" stroke-width="0.6"/>
<rect x="87.7" y="427.0" width="13.3" height="42.0" fill="#6c6c6c"/>
<path d="M88.0,469.0 V427.3 H100.7 V469.0" fill="none" stroke="#5c5c5c" stroke-width="0.6"/>
<rect x="120.0" y="403.3" width="13.8" height="65.7" fill="#b7b7b7"/>
<path d="M120.3,469.0 V403.6 H133.5 V469.0" fill="none" stroke="#a4a4a4" stroke-width="0.6"/>
<rect x="133.8" y="439.8" width="13.2" height="29.2" fill="#6c6c6c"/>
<path d="M134.1,469.0 V440.1 H146.7 V469.0" fill="none" stroke="#5c5c5c" stroke-width="0.6"/>
<rect x="166.2" y="449.0" width="13.2" height="20.0" fill="#b7b7b7"/>
<path d="M166.5,469.0 V449.3 H179.1 V469.0" fill="none" stroke="#a4a4a4" stroke-width="0.6"/>
<rect x="179.4" y="456.2" width="13.1" height="12.8" fill="#6c6c6c"/>
<path d="M179.7,469.0 V456.5 H192.2 V469.0" fill="none" stroke="#5c5c5c" stroke-width="0.6"/>
<rect x="64.6" y="369.6" width="136.6" height="99.4" fill="none" stroke="#858585" stroke-width="0.8"/>
<text x="62.2" y="374.7" font-size="8.5" font-weight="normal" text-anchor="end" fill="#111" stroke="#111" stroke-width="0.10">10</text>
<text x="62.2" y="424.3" font-size="8.5" font-weight="normal" text-anchor="end" fill="#111" stroke="#111" stroke-width="0.10">5</text>
<text x="62.2" y="473.7" font-size="8.5" font-weight="normal" text-anchor="end" fill="#111" stroke="#111" stroke-width="0.10">0</text>
<text x="52.5" y="414.3" font-size="9.0" font-weight="bold" text-anchor="middle" fill="#000" stroke="#000" stroke-width="0.30" transform="rotate(-90 52.5 414.3)">#Cells (x10<tspan dy="-3.2" font-size="5.6">-6</tspan><tspan dy="3.2">)</tspan></text>
<line x1="81.3" y1="376.7" x2="81.3" y2="388.5" stroke="#1a1a1a" stroke-width="1.0" stroke-linecap="butt"/>
<line x1="79.8" y1="376.7" x2="82.8" y2="376.7" stroke="#1a1a1a" stroke-width="1.0" stroke-linecap="butt"/>
<line x1="79.8" y1="388.5" x2="82.8" y2="388.5" stroke="#1a1a1a" stroke-width="1.0" stroke-linecap="butt"/>
<line x1="94.2" y1="420.6" x2="94.2" y2="433.0" stroke="#1a1a1a" stroke-width="1.0" stroke-linecap="butt"/>
<line x1="92.7" y1="420.6" x2="95.7" y2="420.6" stroke="#1a1a1a" stroke-width="1.0" stroke-linecap="butt"/>
<line x1="92.7" y1="433.0" x2="95.7" y2="433.0" stroke="#1a1a1a" stroke-width="1.0" stroke-linecap="butt"/>
<line x1="126.7" y1="398.5" x2="126.7" y2="408.5" stroke="#1a1a1a" stroke-width="1.0" stroke-linecap="butt"/>
<line x1="125.2" y1="398.5" x2="128.2" y2="398.5" stroke="#1a1a1a" stroke-width="1.0" stroke-linecap="butt"/>
<line x1="125.2" y1="408.5" x2="128.2" y2="408.5" stroke="#1a1a1a" stroke-width="1.0" stroke-linecap="butt"/>
<line x1="140.0" y1="435.6" x2="140.0" y2="444.6" stroke="#1a1a1a" stroke-width="1.0" stroke-linecap="butt"/>
<line x1="138.5" y1="435.6" x2="141.5" y2="435.6" stroke="#1a1a1a" stroke-width="1.0" stroke-linecap="butt"/>
<line x1="138.5" y1="444.6" x2="141.5" y2="444.6" stroke="#1a1a1a" stroke-width="1.0" stroke-linecap="butt"/>
<line x1="172.5" y1="447.1" x2="172.5" y2="450.8" stroke="#1a1a1a" stroke-width="1.0" stroke-linecap="butt"/>
<line x1="171.0" y1="447.1" x2="174.0" y2="447.1" stroke="#1a1a1a" stroke-width="1.0" stroke-linecap="butt"/>
<line x1="171.0" y1="450.8" x2="174.0" y2="450.8" stroke="#1a1a1a" stroke-width="1.0" stroke-linecap="butt"/>
<line x1="185.8" y1="453.7" x2="185.8" y2="458.5" stroke="#1a1a1a" stroke-width="1.0" stroke-linecap="butt"/>
<line x1="184.3" y1="453.7" x2="187.3" y2="453.7" stroke="#1a1a1a" stroke-width="1.0" stroke-linecap="butt"/>
<line x1="184.3" y1="458.5" x2="187.3" y2="458.5" stroke="#1a1a1a" stroke-width="1.0" stroke-linecap="butt"/>
<text x="94.2" y="412.2" font-size="15" font-weight="bold" text-anchor="middle" fill="#000" stroke="#000" stroke-width="0.49">*</text>
<text x="140.2" y="433.2" font-size="15" font-weight="bold" text-anchor="middle" fill="#000" stroke="#000" stroke-width="0.49">*</text>
<text x="185.8" y="455.8" font-size="15" font-weight="bold" text-anchor="middle" fill="#000" stroke="#000" stroke-width="0.49">*</text>
<text x="87.1" y="480.8" font-size="8.8" font-weight="bold" text-anchor="middle" fill="#000" stroke="#000" stroke-width="0.29">Total</text>
<text x="87.1" y="491.7" font-size="8.8" font-weight="bold" text-anchor="middle" fill="#000" stroke="#000" stroke-width="0.29">CD8+</text>
<text x="134.0" y="480.8" font-size="8.8" font-weight="bold" text-anchor="middle" fill="#000" stroke="#000" stroke-width="0.29">CD8+</text>
<text x="134.0" y="491.7" font-size="8.8" font-weight="bold" text-anchor="middle" fill="#000" stroke="#000" stroke-width="0.29">CD44lo</text>
<text x="180.2" y="480.8" font-size="8.8" font-weight="bold" text-anchor="middle" fill="#000" stroke="#000" stroke-width="0.29">CD8+</text>
<text x="180.2" y="491.7" font-size="8.8" font-weight="bold" text-anchor="middle" fill="#000" stroke="#000" stroke-width="0.29">CD44lo</text>
</g>
<g id="panelF">
<text x="224.2" y="378.8" font-size="16.9" font-weight="bold" text-anchor="start" fill="#000" stroke="#000" stroke-width="0.56">F</text>
<rect x="288.1" y="396.0" width="26.9" height="72.7" fill="#b7b7b7"/>
<path d="M288.4,468.7 V396.3 H314.7 V468.7" fill="none" stroke="#a4a4a4" stroke-width="0.6"/>
<rect x="354.0" y="430.2" width="26.0" height="38.5" fill="#6c6c6c"/>
<path d="M354.3,468.7 V430.5 H379.7 V468.7" fill="none" stroke="#5c5c5c" stroke-width="0.6"/>
<rect x="268.5" y="370" width="131.3" height="98.7" fill="none" stroke="#858585" stroke-width="0.8"/>
<text x="265.4" y="375.3" font-size="8.5" font-weight="normal" text-anchor="end" fill="#111" stroke="#111" stroke-width="0.10">15</text>
<text x="265.4" y="408.3" font-size="8.5" font-weight="normal" text-anchor="end" fill="#111" stroke="#111" stroke-width="0.10">10</text>
<text x="265.4" y="441.0" font-size="8.5" font-weight="normal" text-anchor="end" fill="#111" stroke="#111" stroke-width="0.10">5</text>
<text x="265.4" y="473.7" font-size="8.5" font-weight="normal" text-anchor="end" fill="#111" stroke="#111" stroke-width="0.10">0</text>
<text x="251.5" y="419.0" font-size="9.0" font-weight="bold" text-anchor="middle" fill="#000" stroke="#000" stroke-width="0.30" transform="rotate(-90 251.5 419.0)"># Spleen TREC (x10<tspan dy="-3.2" font-size="5.6">-5</tspan><tspan dy="3.2">)</tspan></text>
<line x1="301.5" y1="383.5" x2="301.5" y2="407.7" stroke="#1a1a1a" stroke-width="1.0" stroke-linecap="butt"/>
<line x1="299.7" y1="383.5" x2="303.3" y2="383.5" stroke="#1a1a1a" stroke-width="1.0" stroke-linecap="butt"/>
<line x1="299.7" y1="407.7" x2="303.3" y2="407.7" stroke="#1a1a1a" stroke-width="1.0" stroke-linecap="butt"/>
<line x1="367.0" y1="422.0" x2="367.0" y2="437.9" stroke="#1a1a1a" stroke-width="1.0" stroke-linecap="butt"/>
<line x1="365.2" y1="422.0" x2="368.8" y2="422.0" stroke="#1a1a1a" stroke-width="1.0" stroke-linecap="butt"/>
<line x1="365.2" y1="437.9" x2="368.8" y2="437.9" stroke="#1a1a1a" stroke-width="1.0" stroke-linecap="butt"/>
<text x="367.0" y="420.0" font-size="15" font-weight="bold" text-anchor="middle" fill="#000" stroke="#000" stroke-width="0.49">*</text>
<text x="301.7" y="478.8" font-size="8.8" font-weight="bold" text-anchor="middle" fill="#000" stroke="#000" stroke-width="0.29">Cre-</text>
<text x="301.7" y="489.2" font-size="8.8" font-weight="bold" text-anchor="middle" fill="#000" stroke="#000" stroke-width="0.29">(T-IGF-1R+)</text>
<text x="367.3" y="478.8" font-size="8.8" font-weight="bold" text-anchor="middle" fill="#000" stroke="#000" stroke-width="0.29">Cre+</text>
<text x="367.3" y="489.2" font-size="8.8" font-weight="bold" text-anchor="middle" fill="#000" stroke="#000" stroke-width="0.29">(T-IGF-1R-)</text>
</g>
<g id="panelG">
<text x="0.6" y="521.4" font-size="16.6" font-weight="bold" text-anchor="start" fill="#000" stroke="#000" stroke-width="0.55">G</text>
<text x="58.0" y="542.0" font-size="13.6" font-weight="bold" text-anchor="start" fill="#000" stroke="#000" stroke-width="0.45">Thymocytes</text>
<rect x="53.2" y="692.0" width="8.0" height="3.6" fill="#6e6e6e"/>
<path d="M53.5,695.6 V692.3 H61.0 V695.6" fill="none" stroke="#555" stroke-width="0.6"/>
<rect x="61.2" y="693.2" width="8.8" height="2.4" fill="#bfbfbf"/>
<path d="M61.5,695.6 V693.5 H69.7 V695.6" fill="none" stroke="#a0a0a0" stroke-width="0.6"/>
<rect x="70.0" y="690.8" width="8.8" height="4.9" fill="#8a8a8a"/>
<path d="M70.3,695.6 V691.0 H78.5 V695.6" fill="none" stroke="#6c6c6c" stroke-width="0.6"/>
<rect x="78.8" y="690.0" width="9.2" height="5.6" fill="#2b2b2b"/>
<path d="M79.0,695.6 V690.3 H87.7 V695.6" fill="none" stroke="#111" stroke-width="0.6"/>
<rect x="102.6" y="695.0" width="8.6" height="0.6" fill="#6e6e6e"/>
<path d="M102.9,695.6 V695.3 H110.9 V695.6" fill="none" stroke="#555" stroke-width="0.6"/>
<rect x="111.2" y="695.1" width="8.6" height="0.5" fill="#bfbfbf"/>
<path d="M111.5,695.6 V695.4 H119.5 V695.6" fill="none" stroke="#a0a0a0" stroke-width="0.6"/>
<rect x="119.8" y="695.0" width="8.6" height="0.6" fill="#8a8a8a"/>
<path d="M120.1,695.6 V695.3 H128.1 V695.6" fill="none" stroke="#6c6c6c" stroke-width="0.6"/>
<rect x="128.4" y="694.8" width="8.6" height="0.8" fill="#2b2b2b"/>
<path d="M128.7,695.6 V695.1 H136.7 V695.6" fill="none" stroke="#111" stroke-width="0.6"/>
<rect x="149.2" y="620.0" width="8.8" height="75.6" fill="#6e6e6e"/>
<path d="M149.6,695.6 V620.3 H157.7 V695.6" fill="none" stroke="#555" stroke-width="0.6"/>
<rect x="158.0" y="647.0" width="8.8" height="48.6" fill="#bfbfbf"/>
<path d="M158.3,695.6 V647.3 H166.4 V695.6" fill="none" stroke="#a0a0a0" stroke-width="0.6"/>
<rect x="166.8" y="573.0" width="8.8" height="122.6" fill="#8a8a8a"/>
<path d="M167.1,695.6 V573.3 H175.2 V695.6" fill="none" stroke="#6c6c6c" stroke-width="0.6"/>
<rect x="175.5" y="573.0" width="9.0" height="122.6" fill="#2b2b2b"/>
<path d="M175.8,695.6 V573.3 H184.2 V695.6" fill="none" stroke="#111" stroke-width="0.6"/>
<rect x="197.5" y="693.0" width="8.8" height="2.6" fill="#6e6e6e"/>
<path d="M197.8,695.6 V693.3 H205.9 V695.6" fill="none" stroke="#555" stroke-width="0.6"/>
<rect x="206.2" y="693.2" width="8.8" height="2.4" fill="#bfbfbf"/>
<path d="M206.6,695.6 V693.5 H214.7 V695.6" fill="none" stroke="#a0a0a0" stroke-width="0.6"/>
<rect x="215.0" y="693.0" width="8.8" height="2.6" fill="#8a8a8a"/>
<path d="M215.3,695.6 V693.3 H223.4 V695.6" fill="none" stroke="#6c6c6c" stroke-width="0.6"/>
<rect x="223.8" y="691.2" width="8.8" height="4.4" fill="#2b2b2b"/>
<path d="M224.1,695.6 V691.5 H232.2 V695.6" fill="none" stroke="#111" stroke-width="0.6"/>
<rect x="46.3" y="548.8" width="193.2" height="147.0" fill="none" stroke="#2e2e2e" stroke-width="1.1"/>
<text x="42.6" y="566.8" font-size="13.2" font-weight="normal" text-anchor="end" fill="#111" stroke="#111" stroke-width="0.12">20</text>
<text x="42.6" y="600.2" font-size="13.2" font-weight="normal" text-anchor="end" fill="#111" stroke="#111" stroke-width="0.12">15</text>
<text x="42.6" y="633.6" font-size="13.2" font-weight="normal" text-anchor="end" fill="#111" stroke="#111" stroke-width="0.12">10</text>
<text x="42.6" y="667.0" font-size="13.2" font-weight="normal" text-anchor="end" fill="#111" stroke="#111" stroke-width="0.12">5</text>
<text x="37.8" y="700.0" font-size="13.2" font-weight="normal" text-anchor="end" fill="#111" stroke="#111" stroke-width="0.12">0</text>
<text x="25.0" y="619.0" font-size="12.8" font-weight="bold" text-anchor="middle" fill="#000" stroke="#000" stroke-width="0.42" transform="rotate(-90 25.0 619.0)">#Cells (x10<tspan dy="-3.8" font-size="10.9">-7</tspan><tspan dy="3.8">)</tspan></text>
<line x1="153.8" y1="607.5" x2="153.8" y2="632.5" stroke="#111" stroke-width="1.0" stroke-linecap="butt"/>
<line x1="152.2" y1="607.5" x2="155.2" y2="607.5" stroke="#111" stroke-width="1.0" stroke-linecap="butt"/>
<line x1="152.2" y1="632.5" x2="155.2" y2="632.5" stroke="#111" stroke-width="1.0" stroke-linecap="butt"/>
<line x1="162.5" y1="643.8" x2="162.5" y2="651.2" stroke="#111" stroke-width="1.0" stroke-linecap="butt"/>
<line x1="161.0" y1="643.8" x2="164.0" y2="643.8" stroke="#111" stroke-width="1.0" stroke-linecap="butt"/>
<line x1="161.0" y1="651.2" x2="164.0" y2="651.2" stroke="#111" stroke-width="1.0" stroke-linecap="butt"/>
<line x1="171.2" y1="560.5" x2="171.2" y2="586.2" stroke="#111" stroke-width="1.0" stroke-linecap="butt"/>
<line x1="169.8" y1="560.5" x2="172.8" y2="560.5" stroke="#111" stroke-width="1.0" stroke-linecap="butt"/>
<line x1="169.8" y1="586.2" x2="172.8" y2="586.2" stroke="#111" stroke-width="1.0" stroke-linecap="butt"/>
<line x1="180.0" y1="563.0" x2="180.0" y2="583.0" stroke="#111" stroke-width="1.0" stroke-linecap="butt"/>
<line x1="178.5" y1="563.0" x2="181.5" y2="563.0" stroke="#111" stroke-width="1.0" stroke-linecap="butt"/>
<line x1="178.5" y1="583.0" x2="181.5" y2="583.0" stroke="#111" stroke-width="1.0" stroke-linecap="butt"/>
<line x1="201.8" y1="691.2" x2="201.8" y2="695.0" stroke="#111" stroke-width="1.0" stroke-linecap="butt"/>
<line x1="200.2" y1="691.2" x2="203.2" y2="691.2" stroke="#111" stroke-width="1.0" stroke-linecap="butt"/>
<line x1="200.2" y1="695.0" x2="203.2" y2="695.0" stroke="#111" stroke-width="1.0" stroke-linecap="butt"/>
<line x1="210.5" y1="691.8" x2="210.5" y2="695.0" stroke="#111" stroke-width="1.0" stroke-linecap="butt"/>
<line x1="209.0" y1="691.8" x2="212.0" y2="691.8" stroke="#111" stroke-width="1.0" stroke-linecap="butt"/>
<line x1="209.0" y1="695.0" x2="212.0" y2="695.0" stroke="#111" stroke-width="1.0" stroke-linecap="butt"/>
<line x1="219.2" y1="690.5" x2="219.2" y2="695.0" stroke="#111" stroke-width="1.0" stroke-linecap="butt"/>
<line x1="217.8" y1="690.5" x2="220.8" y2="690.5" stroke="#111" stroke-width="1.0" stroke-linecap="butt"/>
<line x1="217.8" y1="695.0" x2="220.8" y2="695.0" stroke="#111" stroke-width="1.0" stroke-linecap="butt"/>
<line x1="228.0" y1="688.8" x2="228.0" y2="693.4" stroke="#111" stroke-width="1.0" stroke-linecap="butt"/>
<line x1="226.5" y1="688.8" x2="229.5" y2="688.8" stroke="#111" stroke-width="1.0" stroke-linecap="butt"/>
<line x1="226.5" y1="693.4" x2="229.5" y2="693.4" stroke="#111" stroke-width="1.0" stroke-linecap="butt"/>
<line x1="57.2" y1="691.0" x2="57.2" y2="693.0" stroke="#111" stroke-width="1.0" stroke-linecap="butt"/>
<line x1="55.7" y1="691.0" x2="58.7" y2="691.0" stroke="#111" stroke-width="1.0" stroke-linecap="butt"/>
<line x1="55.7" y1="693.0" x2="58.7" y2="693.0" stroke="#111" stroke-width="1.0" stroke-linecap="butt"/>
<line x1="65.6" y1="692.6" x2="65.6" y2="693.8" stroke="#111" stroke-width="1.0" stroke-linecap="butt"/>
<line x1="64.1" y1="692.6" x2="67.1" y2="692.6" stroke="#111" stroke-width="1.0" stroke-linecap="butt"/>
<line x1="64.1" y1="693.8" x2="67.1" y2="693.8" stroke="#111" stroke-width="1.0" stroke-linecap="butt"/>
<line x1="74.4" y1="690.0" x2="74.4" y2="691.5" stroke="#111" stroke-width="1.0" stroke-linecap="butt"/>
<line x1="72.9" y1="690.0" x2="75.9" y2="690.0" stroke="#111" stroke-width="1.0" stroke-linecap="butt"/>
<line x1="72.9" y1="691.5" x2="75.9" y2="691.5" stroke="#111" stroke-width="1.0" stroke-linecap="butt"/>
<line x1="83.4" y1="689.2" x2="83.4" y2="690.8" stroke="#111" stroke-width="1.0" stroke-linecap="butt"/>
<line x1="81.9" y1="689.2" x2="84.9" y2="689.2" stroke="#111" stroke-width="1.0" stroke-linecap="butt"/>
<line x1="81.9" y1="690.8" x2="84.9" y2="690.8" stroke="#111" stroke-width="1.0" stroke-linecap="butt"/>
<line x1="106.9" y1="694.4" x2="106.9" y2="695.4" stroke="#111" stroke-width="1.0" stroke-linecap="butt"/>
<line x1="105.4" y1="694.4" x2="108.4" y2="694.4" stroke="#111" stroke-width="1.0" stroke-linecap="butt"/>
<line x1="105.4" y1="695.4" x2="108.4" y2="695.4" stroke="#111" stroke-width="1.0" stroke-linecap="butt"/>
<line x1="115.5" y1="694.6" x2="115.5" y2="695.4" stroke="#111" stroke-width="1.0" stroke-linecap="butt"/>
<line x1="114.0" y1="694.6" x2="117.0" y2="694.6" stroke="#111" stroke-width="1.0" stroke-linecap="butt"/>
<line x1="114.0" y1="695.4" x2="117.0" y2="695.4" stroke="#111" stroke-width="1.0" stroke-linecap="butt"/>
<line x1="124.1" y1="694.4" x2="124.1" y2="695.4" stroke="#111" stroke-width="1.0" stroke-linecap="butt"/>
<line x1="122.6" y1="694.4" x2="125.6" y2="694.4" stroke="#111" stroke-width="1.0" stroke-linecap="butt"/>
<line x1="122.6" y1="695.4" x2="125.6" y2="695.4" stroke="#111" stroke-width="1.0" stroke-linecap="butt"/>
<line x1="132.7" y1="694.2" x2="132.7" y2="695.2" stroke="#111" stroke-width="1.0" stroke-linecap="butt"/>
<line x1="131.2" y1="694.2" x2="134.2" y2="694.2" stroke="#111" stroke-width="1.0" stroke-linecap="butt"/>
<line x1="131.2" y1="695.2" x2="134.2" y2="695.2" stroke="#111" stroke-width="1.0" stroke-linecap="butt"/>
<path d="M57,686.6 V682.6 Q57,681.3 58.3,681.3 H73.2 Q74.5,681.3 74.5,682.6 V686.6" stroke="#222" stroke-width="1.05" fill="none" />
<path d="M66.25,686.6 V674 Q66.25,672.5 67.75,672.5 H82.75 Q84.25,672.5 84.25,674 V686.3" stroke="#222" stroke-width="1.05" fill="none" />
<text x="76.2" y="672.7" font-size="19" font-weight="bold" text-anchor="middle" fill="#000" stroke="#000" stroke-width="0.63">*</text>
<path d="M150.5,598 V593.4 Q150.5,592 151.9,592 H162.4 Q163.75,592 163.75,593.4 V598" stroke="#222" stroke-width="1.05" fill="none" />
<text x="157.0" y="594.4" font-size="19" font-weight="bold" text-anchor="middle" fill="#000" stroke="#000" stroke-width="0.63">*</text>
<path d="M150.5,565.5 V561.4 Q150.5,560 151.9,560 H162.4 Q163.75,560 163.75,561.4 V565.5" stroke="#222" stroke-width="1.05" fill="none" />
<path d="M156.75,560 V555.2 Q156.75,553.75 158.2,553.75 H176.6 Q178,553.75 178,555.2 V559.5" stroke="#222" stroke-width="1.05" fill="none" />
<text x="185.0" y="565.4" font-size="19" font-weight="bold" text-anchor="middle" fill="#000" stroke="#000" stroke-width="0.63">*</text>
<text x="72.5" y="709.2" font-size="13.2" font-weight="bold" text-anchor="middle" fill="#000" stroke="#000" stroke-width="0.44">CD4</text>
<text x="122.6" y="709.2" font-size="13.2" font-weight="bold" text-anchor="middle" fill="#000" stroke="#000" stroke-width="0.44">CD8</text>
<text x="169.2" y="709.2" font-size="13.2" font-weight="bold" text-anchor="middle" fill="#000" stroke="#000" stroke-width="0.44">DP</text>
<text x="217.1" y="709.2" font-size="13.2" font-weight="bold" text-anchor="middle" fill="#000" stroke="#000" stroke-width="0.44">DN</text>
<text x="72.3" y="723.4" font-size="13.2" font-weight="bold" text-anchor="middle" fill="#000" stroke="#000" stroke-width="0.44">SP</text>
<text x="122.8" y="723.4" font-size="13.2" font-weight="bold" text-anchor="middle" fill="#000" stroke="#000" stroke-width="0.44">SP</text>
<rect x="80.8" y="728.3" width="132.1" height="73.0" fill="#fff" stroke="#444" stroke-width="0.9"/>
<rect x="85.3" y="733.0" width="9.7" height="9.2" fill="#6e6e6e" stroke="#4a4a4a" stroke-width="0.9"/>
<text x="99.5" y="740.8" font-size="9.3" font-weight="bold" text-anchor="start" fill="#000" stroke="#000" stroke-width="0.31" letter-spacing="0.1">Cre- (T-IGF-1R<tspan dy="-2.4" font-size="6">+</tspan><tspan dy="2.4">)</tspan></text>
<rect x="85.3" y="750.8" width="9.7" height="9.0" fill="#c6c6c6" stroke="#4a4a4a" stroke-width="0.9"/>
<text x="99.5" y="758.6" font-size="9.3" font-weight="bold" text-anchor="start" fill="#000" stroke="#000" stroke-width="0.31" letter-spacing="0.1">Cre+ (T-IGF-1R<tspan dy="-2.4" font-size="6">-</tspan><tspan dy="2.4">)</tspan></text>
<rect x="85.3" y="769.0" width="9.7" height="9.2" fill="#8a8a8a" stroke="#4a4a4a" stroke-width="0.9"/>
<text x="99.5" y="776.8" font-size="9.3" font-weight="bold" text-anchor="start" fill="#000" stroke="#000" stroke-width="0.31" letter-spacing="0.1">Cre- (T-IGF-1R<tspan dy="-2.4" font-size="6">+</tspan><tspan dy="2.4">) + IGF-1</tspan></text>
<rect x="85.3" y="786.9" width="9.7" height="9.2" fill="#2b2b2b" stroke="#4a4a4a" stroke-width="0.9"/>
<text x="99.5" y="794.7" font-size="9.3" font-weight="bold" text-anchor="start" fill="#000" stroke="#000" stroke-width="0.31" letter-spacing="0.1">Cre+ (T-IGF-1R<tspan dy="-2.4" font-size="6">-</tspan><tspan dy="2.4">) + IGF-1</tspan></text>
</g>
<g id="panelH">
<text x="264.6" y="521.4" font-size="16.6" font-weight="bold" text-anchor="start" fill="#000" stroke="#000" stroke-width="0.55">H</text>
<text x="312.5" y="540.5" font-size="13.8" font-weight="bold" text-anchor="start" fill="#000" stroke="#000" stroke-width="0.46">Thymus TREC</text>
<rect x="319.2" y="633.8" width="21.5" height="67.6" fill="#6e6e6e"/>
<path d="M319.6,701.4 V634.0 H340.4 V701.4" fill="none" stroke="#555" stroke-width="0.6"/>
<rect x="373.8" y="656.2" width="21.2" height="45.1" fill="#bfbfbf"/>
<path d="M374.1,701.4 V656.5 H394.7 V701.4" fill="none" stroke="#a0a0a0" stroke-width="0.6"/>
<rect x="427.5" y="581.2" width="21.2" height="120.1" fill="#8a8a8a"/>
<path d="M427.8,701.4 V581.5 H448.4 V701.4" fill="none" stroke="#6c6c6c" stroke-width="0.6"/>
<rect x="481.2" y="581.2" width="21.8" height="120.1" fill="#2b2b2b"/>
<path d="M481.6,701.4 V581.5 H502.7 V701.4" fill="none" stroke="#111" stroke-width="0.6"/>
<rect x="303" y="547.6" width="214.5" height="154.0" fill="none" stroke="#2e2e2e" stroke-width="1.1"/>
<text x="300.2" y="553.5" font-size="13.2" font-weight="normal" text-anchor="end" fill="#111" stroke="#111" stroke-width="0.12">30</text>
<text x="300.2" y="604.4" font-size="13.2" font-weight="normal" text-anchor="end" fill="#111" stroke="#111" stroke-width="0.12">20</text>
<text x="300.2" y="655.2" font-size="13.2" font-weight="normal" text-anchor="end" fill="#111" stroke="#111" stroke-width="0.12">10</text>
<text x="293.6" y="705.4" font-size="13.2" font-weight="normal" text-anchor="end" fill="#111" stroke="#111" stroke-width="0.12">0</text>
<text x="282.4" y="612.5" font-size="13" font-weight="bold" text-anchor="middle" fill="#000" stroke="#000" stroke-width="0.43" transform="rotate(-90 282.4 612.5)">TREC (x10<tspan dy="-3.9" font-size="11.0">-6</tspan><tspan dy="3.9">)</tspan></text>
<line x1="330.0" y1="627.5" x2="330.0" y2="640.0" stroke="#111" stroke-width="1.0" stroke-linecap="butt"/>
<line x1="328.3" y1="627.5" x2="331.7" y2="627.5" stroke="#111" stroke-width="1.0" stroke-linecap="butt"/>
<line x1="328.3" y1="640.0" x2="331.7" y2="640.0" stroke="#111" stroke-width="1.0" stroke-linecap="butt"/>
<line x1="384.2" y1="648.8" x2="384.2" y2="663.2" stroke="#111" stroke-width="1.0" stroke-linecap="butt"/>
<line x1="382.6" y1="648.8" x2="385.9" y2="648.8" stroke="#111" stroke-width="1.0" stroke-linecap="butt"/>
<line x1="382.6" y1="663.2" x2="385.9" y2="663.2" stroke="#111" stroke-width="1.0" stroke-linecap="butt"/>
<line x1="438.0" y1="557.5" x2="438.0" y2="604.5" stroke="#111" stroke-width="1.0" stroke-linecap="butt"/>
<line x1="436.3" y1="557.5" x2="439.7" y2="557.5" stroke="#111" stroke-width="1.0" stroke-linecap="butt"/>
<line x1="436.3" y1="604.5" x2="439.7" y2="604.5" stroke="#111" stroke-width="1.0" stroke-linecap="butt"/>
<line x1="492.0" y1="572.5" x2="492.0" y2="588.8" stroke="#111" stroke-width="1.0" stroke-linecap="butt"/>
<line x1="490.3" y1="572.5" x2="493.7" y2="572.5" stroke="#111" stroke-width="1.0" stroke-linecap="butt"/>
<line x1="490.3" y1="588.8" x2="493.7" y2="588.8" stroke="#111" stroke-width="1.0" stroke-linecap="butt"/>
<path d="M332.5,624.0 Q332.5,618.0 337.5,618.0 H378.2 Q383.2,618.0 383.2,624.0" stroke="#222" stroke-width="1.05" fill="none" />
<text x="360.0" y="614.0" font-size="9.8" font-weight="bold" text-anchor="middle" fill="#000" stroke="#000" stroke-width="0.32">#</text>
<path d="M328.0,576.5 Q328.0,570.0 334.0,570.0 H428.0 Q434.0,570.0 434.0,576.5" stroke="#222" stroke-width="1.05" fill="none" />
<text x="378.8" y="585.8" font-size="18" font-weight="bold" text-anchor="middle" fill="#000" stroke="#000" stroke-width="0.59">*</text>
<path d="M389.0,560.5 Q389.0,553.0 395.0,553.0 H488.5 Q494.5,553.0 494.5,560.5" stroke="#222" stroke-width="1.05" fill="none" />
<text x="458.2" y="569.0" font-size="18" font-weight="bold" text-anchor="middle" fill="#000" stroke="#000" stroke-width="0.59">*</text>
<text x="330.7" y="713.4" font-size="9.5" font-weight="bold" text-anchor="middle" fill="#000" stroke="#000" stroke-width="0.31">Cre<tspan dy="-2.9" font-size="8.6">-</tspan></text>
<text x="333.5" y="723.6" font-size="9.2" font-weight="bold" text-anchor="middle" fill="#000" stroke="#000" stroke-width="0.30">(T-IGF-1R<tspan dy="-2.8" font-size="8.3">+</tspan><tspan dy="2.8">)</tspan></text>
<text x="385.2" y="713.4" font-size="9.5" font-weight="bold" text-anchor="middle" fill="#000" stroke="#000" stroke-width="0.31">Cre<tspan dy="-2.9" font-size="8.6">+</tspan></text>
<text x="386.5" y="723.6" font-size="9.2" font-weight="bold" text-anchor="middle" fill="#000" stroke="#000" stroke-width="0.30">(T-IGF-1R<tspan dy="-2.8" font-size="8.3">-</tspan><tspan dy="2.8">)</tspan></text>
<text x="440.2" y="713.4" font-size="9.5" font-weight="bold" text-anchor="middle" fill="#000" stroke="#000" stroke-width="0.31">Cre<tspan dy="-2.9" font-size="8.6">-</tspan></text>
<text x="440.6" y="723.6" font-size="9.2" font-weight="bold" text-anchor="middle" fill="#000" stroke="#000" stroke-width="0.30">(T-IGF-1R<tspan dy="-2.8" font-size="8.3">+</tspan><tspan dy="2.8">)</tspan></text>
<text x="441.2" y="734.6" font-size="9.5" font-weight="bold" text-anchor="middle" fill="#000" stroke="#000" stroke-width="0.31">+ IGF1</text>
<text x="494.7" y="713.4" font-size="9.5" font-weight="bold" text-anchor="middle" fill="#000" stroke="#000" stroke-width="0.31">Cre<tspan dy="-2.9" font-size="8.6">+</tspan></text>
<text x="494.7" y="723.6" font-size="9.2" font-weight="bold" text-anchor="middle" fill="#000" stroke="#000" stroke-width="0.30">(T-IGF-1R<tspan dy="-2.8" font-size="8.3">-</tspan><tspan dy="2.8">)</tspan></text>
<text x="492.5" y="734.6" font-size="9.5" font-weight="bold" text-anchor="middle" fill="#000" stroke="#000" stroke-width="0.31">+ IGF1</text>
</g>
<g id="panelI">
<rect x="126.4" y="819.5" width="3.5" height="11.8" fill="#000"/>
<text x="178.0" y="837.5" font-size="13.8" font-weight="bold" text-anchor="start" fill="#000" stroke="#000" stroke-width="0.46">Peripheral LSK</text>
<rect x="181.8" y="968.8" width="20.2" height="21.6" fill="#6e6e6e"/>
<path d="M182.1,990.4 V969.0 H201.7 V990.4" fill="none" stroke="#555" stroke-width="0.6"/>
<rect x="231.2" y="971.2" width="20.5" height="19.1" fill="#bfbfbf"/>
<path d="M231.6,990.4 V971.5 H251.4 V990.4" fill="none" stroke="#a0a0a0" stroke-width="0.6"/>
<rect x="281.2" y="918.0" width="20.5" height="72.4" fill="#8a8a8a"/>
<path d="M281.6,990.4 V918.3 H301.4 V990.4" fill="none" stroke="#6c6c6c" stroke-width="0.6"/>
<rect x="331.2" y="881.8" width="20.5" height="108.6" fill="#2b2b2b"/>
<path d="M331.6,990.4 V882.0 H351.4 V990.4" fill="none" stroke="#111" stroke-width="0.6"/>
<rect x="167.5" y="843.3" width="198.2" height="147.3" fill="none" stroke="#2e2e2e" stroke-width="1.1"/>
<text x="166.2" y="847.2" font-size="13.2" font-weight="normal" text-anchor="end" fill="#111" stroke="#111" stroke-width="0.12">30</text>
<text x="166.2" y="896.8" font-size="13.2" font-weight="normal" text-anchor="end" fill="#111" stroke="#111" stroke-width="0.12">20</text>
<text x="166.2" y="946.0" font-size="13.2" font-weight="normal" text-anchor="end" fill="#111" stroke="#111" stroke-width="0.12">10</text>
<text x="160.2" y="995.3" font-size="13.2" font-weight="normal" text-anchor="end" fill="#111" stroke="#111" stroke-width="0.12">0</text>
<text x="145.0" y="915.0" font-size="13" font-weight="bold" text-anchor="middle" fill="#000" stroke="#000" stroke-width="0.43" transform="rotate(-90 145.0 915.0)">#Cells (x10<tspan dy="-3.9" font-size="11.0">-4</tspan><tspan dy="3.9">)</tspan></text>
<line x1="191.8" y1="961.2" x2="191.8" y2="975.0" stroke="#111" stroke-width="1.0" stroke-linecap="butt"/>
<line x1="190.1" y1="961.2" x2="193.4" y2="961.2" stroke="#111" stroke-width="1.0" stroke-linecap="butt"/>
<line x1="190.1" y1="975.0" x2="193.4" y2="975.0" stroke="#111" stroke-width="1.0" stroke-linecap="butt"/>
<line x1="241.2" y1="965.0" x2="241.2" y2="978.0" stroke="#111" stroke-width="1.0" stroke-linecap="butt"/>
<line x1="239.6" y1="965.0" x2="242.9" y2="965.0" stroke="#111" stroke-width="1.0" stroke-linecap="butt"/>
<line x1="239.6" y1="978.0" x2="242.9" y2="978.0" stroke="#111" stroke-width="1.0" stroke-linecap="butt"/>
<line x1="291.2" y1="906.2" x2="291.2" y2="929.5" stroke="#111" stroke-width="1.0" stroke-linecap="butt"/>
<line x1="289.6" y1="906.2" x2="292.9" y2="906.2" stroke="#111" stroke-width="1.0" stroke-linecap="butt"/>
<line x1="289.6" y1="929.5" x2="292.9" y2="929.5" stroke="#111" stroke-width="1.0" stroke-linecap="butt"/>
<line x1="341.2" y1="848.8" x2="341.2" y2="913.8" stroke="#111" stroke-width="1.0" stroke-linecap="butt"/>
<line x1="339.6" y1="848.8" x2="342.9" y2="848.8" stroke="#111" stroke-width="1.0" stroke-linecap="butt"/>
<line x1="339.6" y1="913.8" x2="342.9" y2="913.8" stroke="#111" stroke-width="1.0" stroke-linecap="butt"/>
<path d="M199.5,874.5 Q199.5,864.5 205.5,864.5 H283.3 Q289.3,864.5 289.3,874.5" stroke="#222" stroke-width="1.05" fill="none" />
<path d="M238.75,864.5 Q238.75,855 244.75,855 H332 Q338,855 338,864.5" stroke="#222" stroke-width="1.05" fill="none" />
<text x="291.8" y="867.3" font-size="14" font-weight="bold" text-anchor="middle" fill="#000" stroke="#000" stroke-width="0.46">*</text>
<path d="M199.5,906.4 Q199.5,899.5 204.5,899.5 H244.5 Q249.5,899.5 249.5,906.4" stroke="#222" stroke-width="1.05" fill="none" />
<path d="M227,899.5 Q227,890.6 233,890.6 H283.5 Q289.5,890.6 289.5,900" stroke="#222" stroke-width="1.05" fill="none" />
<text x="255.8" y="905.3" font-size="14" font-weight="bold" text-anchor="middle" fill="#000" stroke="#000" stroke-width="0.46">*</text>
<text x="191.6" y="1000.5" font-size="9.2" font-weight="bold" text-anchor="middle" fill="#000" stroke="#000" stroke-width="0.30">Cre<tspan dy="-2.8" font-size="8.3">-</tspan></text>
<text x="186.8" y="1010.5" font-size="8.2" font-weight="bold" text-anchor="middle" fill="#000" stroke="#000" stroke-width="0.27">(T-IGF-1R<tspan dy="-2.5" font-size="7.4">+</tspan><tspan dy="2.5">)</tspan></text>
<text x="242.0" y="1000.5" font-size="9.2" font-weight="bold" text-anchor="middle" fill="#000" stroke="#000" stroke-width="0.30">Cre<tspan dy="-2.8" font-size="8.3">+</tspan></text>
<text x="241.6" y="1010.5" font-size="8.2" font-weight="bold" text-anchor="middle" fill="#000" stroke="#000" stroke-width="0.27">(T-IGF-1R<tspan dy="-2.5" font-size="7.4">-</tspan><tspan dy="2.5">)</tspan></text>
<text x="293.5" y="1000.5" font-size="9.2" font-weight="bold" text-anchor="middle" fill="#000" stroke="#000" stroke-width="0.30">Cre<tspan dy="-2.8" font-size="8.3">-</tspan></text>
<text x="293.8" y="1010.5" font-size="8.2" font-weight="bold" text-anchor="middle" fill="#000" stroke="#000" stroke-width="0.27">(T-IGF-1R<tspan dy="-2.5" font-size="7.4">+</tspan><tspan dy="2.5">)</tspan></text>
<text x="287.7" y="1021.1" font-size="9.6" font-weight="bold" text-anchor="middle" fill="#000" stroke="#000" stroke-width="0.32">+ IGF1</text>
<text x="341.6" y="1000.5" font-size="9.2" font-weight="bold" text-anchor="middle" fill="#000" stroke="#000" stroke-width="0.30">Cre<tspan dy="-2.8" font-size="8.3">+</tspan></text>
<text x="348.0" y="1010.5" font-size="8.2" font-weight="bold" text-anchor="middle" fill="#000" stroke="#000" stroke-width="0.27">(T-IGF-1R<tspan dy="-2.5" font-size="7.4">-</tspan><tspan dy="2.5">)</tspan></text>
<text x="341.8" y="1021.1" font-size="9.6" font-weight="bold" text-anchor="middle" fill="#000" stroke="#000" stroke-width="0.32">+ IGF1</text>
</g>
</g>
</svg>
</body></html>
